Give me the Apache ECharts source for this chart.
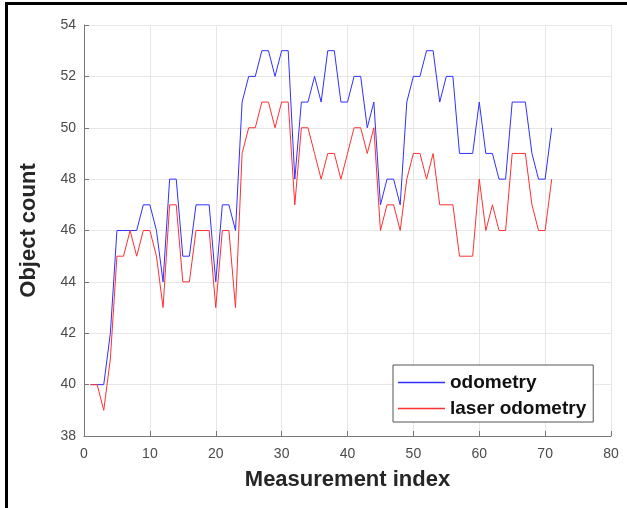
<!DOCTYPE html>
<html>
<head>
<meta charset="utf-8">
<script src="https://cdn.jsdelivr.net/npm/echarts@6/dist/echarts.min.js"></script>
<style>
html,body{margin:0;padding:0;background:#fff;}
#c{width:627px;height:508px;}
</style>
</head>
<body>
<div id="c"></div>
<script>
var seriesNames = ['odometry', 'laser odometry'];
var odometry = [40,40,40,42,46,46,46,46,47,47,46,44,48,48,45,45,47,47,47,44,47,47,46,51,52,52,53,53,52,53,53,48,51,51,52,51,53,53,51,51,52,52,50,51,47,48,48,47,51,52,52,53,53,51,52,52,49,49,49,51,49,49,48,48,51,51,51,49,48,48,50];
var laser = [40,40,39,41,45,45,46,45,46,46,45,43,47,47,44,44,46,46,46,43,46,46,43,49,50,50,51,51,50,51,51,47,50,50,49,48,49,49,48,49,50,50,49,50,46,47,47,46,48,49,49,48,49,47,47,47,45,45,45,48,46,47,46,46,49,49,49,47,46,46,48];
var xTicks = [0,10,20,30,40,50,60,70,80];
var yTicks = [38,40,42,44,46,48,50,52,54];

function pairs(arr){ return arr.map(function(v,i){ return [i+1, v]; }); }

var FONT = "'Liberation Sans', Arial, sans-serif";
var chart = echarts.init(document.getElementById('c'), null, {renderer:'canvas'});
chart.setOption({
  animation:false,
  backgroundColor:'#ffffff',
  grid:{left:84, right:16, top:25, bottom:72, containLabel:false},
  xAxis:{
    type:'value', min:xTicks[0], max:xTicks[xTicks.length-1], interval:10,
    name:'Measurement index', nameLocation:'middle', nameGap:33,
    nameTextStyle:{fontFamily:FONT, fontWeight:'bold', fontSize:22, color:'#262626'},
    axisLine:{show:true, onZero:false, lineStyle:{color:'#777', width:1}},
    axisTick:{show:true, inside:true, length:5, lineStyle:{color:'#777'}},
    axisLabel:{fontFamily:FONT, fontSize:14, color:'#4a4a4a', margin:11},
    splitLine:{show:true, lineStyle:{color:'#e6e6e6', width:1}}
  },
  yAxis:{
    type:'value', min:yTicks[0], max:yTicks[yTicks.length-1], interval:2,
    name:'Object count', nameLocation:'middle', nameGap:44, nameRotate:90,
    nameTextStyle:{fontFamily:FONT, fontWeight:'bold', fontSize:22, color:'#262626'},
    axisLine:{show:true, onZero:false, lineStyle:{color:'#777', width:1}},
    axisTick:{show:true, inside:true, length:5, lineStyle:{color:'#777'}},
    axisLabel:{fontFamily:FONT, fontSize:14, color:'#4a4a4a', margin:8},
    splitLine:{show:true, lineStyle:{color:'#e6e6e6', width:1}}
  },
  legend:{
    orient:'vertical', left:393, top:365,
    data:seriesNames,
    icon:'rect', itemWidth:47, itemHeight:1.5, itemGap:7,
    padding:[8,7,4,5],
    borderColor:'#555', borderWidth:1, backgroundColor:'#ffffff',
    textStyle:{fontFamily:FONT, fontWeight:'bold', fontSize:19, color:'#111'}
  },
  series:[
    {name:seriesNames[0], type:'line', data:pairs(odometry), symbol:'none',
     lineStyle:{color:'#3030ff', width:1}, itemStyle:{color:'#3030ff'}},
    {name:seriesNames[1], type:'line', data:pairs(laser), symbol:'none',
     lineStyle:{color:'#ff3030', width:1}, itemStyle:{color:'#ff3030'}}
  ],
  graphic:[
    {type:'rect', left:5, top:2, shape:{width:622, height:3}, style:{fill:'#000'}},
    {type:'rect', left:5, top:2, shape:{width:3, height:506}, style:{fill:'#000'}}
  ]
});
</script>
</body>
</html>
